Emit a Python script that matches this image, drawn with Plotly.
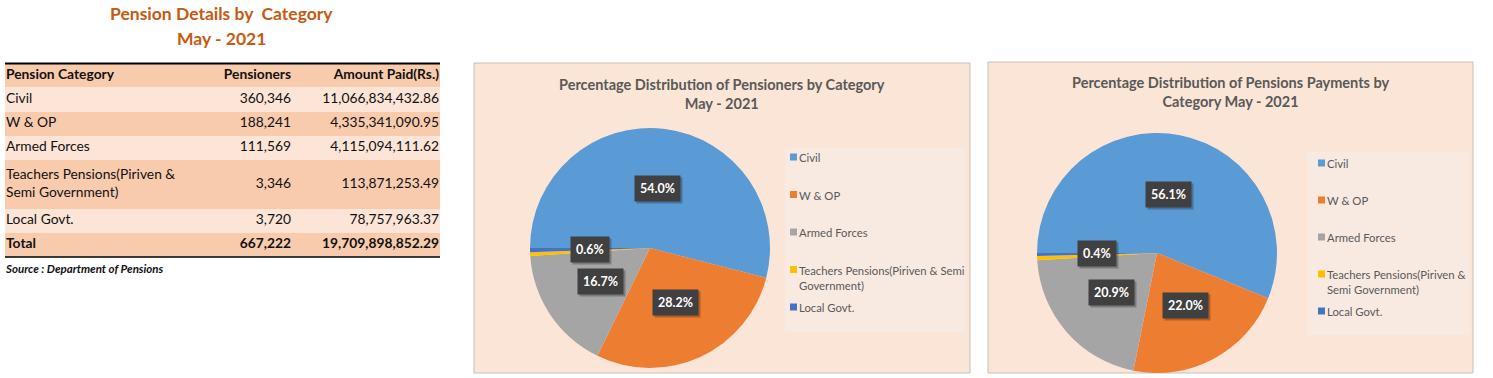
import math
import plotly.graph_objects as go

# ---------------- data ----------------
categories = ["Civil", "W & OP", "Armed Forces",
              "Teachers Pensions(Piriven & Semi Government)", "Local Govt."]
table_labels = ["Civil", "W & OP", "Armed Forces",
                "Teachers Pensions(Piriven &<br>Semi Government)", "Local Govt."]
table_headers = ["Pension Category", "Pensioners", "Amount Paid(Rs.)"]
legend_labels_1 = ["Civil", "W & OP", "Armed Forces",
                   "Teachers Pensions(Piriven & Semi<br>Government)", "Local Govt."]
legend_labels_2 = ["Civil", "W & OP", "Armed Forces",
                   "Teachers Pensions(Piriven &<br>Semi Government)", "Local Govt."]
pensioners = [360346, 188241, 111569, 3346, 3720]
amount_paid = [11066834432.86, 4335341090.95, 4115094111.62, 113871253.49, 78757963.37]
show_label = [True, True, True, False, True]
colors = ["#5B9BD5", "#ED7D31", "#A5A5A5", "#FFC000", "#4472C4"]

main_title = ["Pension Details by  Category", "May - 2021"]
chart1_title = "Percentage Distribution of Pensioners by Category<br>May - 2021"
chart2_title = "Percentage Distribution of Pensions Payments by<br>Category May - 2021"
source_text = "Source : Department of Pensions"

# ---------------- layout constants ----------------
W, H = 1493, 378
FONT = "Lato, 'Open Sans', sans-serif"
TABLE_X0, TABLE_X1, TABLE_Y0, TABLE_Y1 = 5, 440, 63, 257   # px
LIGHT, DARK = "#FCE4D6", "#F8CBAD"


def px_x(x):
    return x / W


def px_y(y):
    return 1 - y / H


def note(text, x, y, size, color, xanchor="center", yanchor="middle", **kw):
    d = dict(text=text, x=px_x(x), y=px_y(y), xref="paper", yref="paper",
             showarrow=False, xanchor=xanchor, yanchor=yanchor,
             font=dict(family=FONT, size=size, color=color))
    d.update(kw)
    return d


fig = go.Figure()

# ---------------- table (heatmap bands + text) ----------------
total_p = sum(pensioners)
total_a = sum(amount_paid)
col_cat = ["<b>" + table_headers[0] + "</b>"] + table_labels + ["<b>Total</b>"]
col_pen = ["<b>" + table_headers[1] + "</b>"] + [f"{v:,}" for v in pensioners] + [f"<b>{total_p:,}</b>"]
col_amt = ["<b>" + table_headers[2] + "</b>"] + [f"{v:,.2f}" for v in amount_paid] + [f"<b>{total_a:,.2f}</b>"]

row_units = [t.count("<br>") + 1 for t in col_cat]       # row heights in line units
edges = [0]
for u in row_units:
    edges.append(edges[-1] + u)
centers = [(edges[i] + edges[i + 1]) / 2 for i in range(len(row_units))]
band = [[1 - (i % 2)] for i in range(len(row_units))]      # dark, light, dark, ...

tw = TABLE_X1 - TABLE_X0
fig.add_trace(go.Heatmap(
    z=band, x=[0, tw], y=edges, zmin=0, zmax=1,
    colorscale=[[0, LIGHT], [1, DARK]], showscale=False, hoverinfo="skip",
    xaxis="x", yaxis="y",
))
text_font = dict(family=FONT, size=13.8, color="#111111")
fig.add_trace(go.Scatter(x=[1] * len(col_cat), y=centers, text=col_cat, mode="text",
                         textposition="middle right", textfont=text_font,
                         hoverinfo="skip", showlegend=False, xaxis="x", yaxis="y"))
fig.add_trace(go.Scatter(x=[286] * len(col_pen), y=centers, text=col_pen, mode="text",
                         textposition="middle left", textfont=text_font,
                         hoverinfo="skip", showlegend=False, xaxis="x", yaxis="y"))
fig.add_trace(go.Scatter(x=[434] * len(col_amt), y=centers, text=col_amt, mode="text",
                         textposition="middle left", textfont=text_font,
                         hoverinfo="skip", showlegend=False, xaxis="x", yaxis="y"))

shapes = []
annotations = []

# table borders
shapes.append(dict(type="line", xref="paper", yref="paper", x0=px_x(TABLE_X0), x1=px_x(TABLE_X1),
                   y0=px_y(TABLE_Y0 + 0.5), y1=px_y(TABLE_Y0 + 0.5),
                   line=dict(color="#000000", width=2)))
shapes.append(dict(type="line", xref="paper", yref="paper", x0=px_x(TABLE_X0), x1=px_x(TABLE_X1),
                   y0=px_y(TABLE_Y1), y1=px_y(TABLE_Y1), line=dict(color="#000000", width=1.5)))

# main title
annotations.append(note("<b>" + main_title[0] + "</b>", 221, 14, 17.5, "#C55A11"))
annotations.append(note("<b>" + main_title[1] + "</b>", 221, 39, 17.5, "#C55A11"))
annotations.append(note("<b><i>" + source_text + "</i></b>", 3, 268, 11.5, "#111111",
                        xanchor="left"))

# ---------------- pies ----------------
charts = [
    dict(values=pensioners, box=(474, 63, 970, 373), legend_box=(785, 148, 965, 332),
         title=chart1_title, title_xy=(722, 94), center=(650, 248), R=120,
         legend_x=790, legend_y0=157, legend_dy=37.5, legend_labels=legend_labels_1),
    dict(values=amount_paid, box=(988, 62, 1473, 373), legend_box=(1307, 152, 1470, 335),
         title=chart2_title, title_xy=(1230, 92), center=(1157, 253), R=120,
         legend_x=1318, legend_y0=163, legend_dy=37, legend_labels=legend_labels_2),
]

for ch in charts:
    x0, y0, x1, y1 = ch["box"]
    shapes.append(dict(type="rect", xref="paper", yref="paper", layer="below",
                       x0=px_x(x0), x1=px_x(x1), y0=px_y(y0), y1=px_y(y1),
                       fillcolor="#FBE5D6", line=dict(color="#C8C0BA", width=1)))
    lx0, ly0, lx1, ly1 = ch["legend_box"]
    shapes.append(dict(type="rect", xref="paper", yref="paper", layer="below",
                       x0=px_x(lx0), x1=px_x(lx1), y0=px_y(ly0), y1=px_y(ly1),
                       fillcolor="#F9EAE1", line=dict(width=0)))
    annotations.append(note("<b>" + ch["title"] + "</b>", ch["title_xy"][0],
                            ch["title_xy"][1], 14.5, "#595959", align="center"))
    cx, cy = ch["center"]
    R = ch["R"]
    vals = ch["values"]
    fig.add_trace(go.Pie(
        labels=categories, values=vals, sort=False, direction="clockwise", rotation=270,
        marker=dict(colors=colors, line=dict(width=0)), textinfo="none", showlegend=False,
        domain=dict(x=[px_x(cx - R), px_x(cx + R)], y=[px_y(cy + R), px_y(cy - R)]),
        hovertemplate="%{label}: %{percent:.1%}<extra></extra>",
    ))
    # data labels at half radius, mid-angle of each slice
    total = sum(vals)
    cum = 0.0
    for i, v in enumerate(vals):
        frac_mid = (cum + v / 2) / total
        cum += v
        if not show_label[i]:
            continue
        theta = math.radians(180 - 360 * frac_mid)
        lx = cx + 0.5 * R * math.cos(theta)
        ly = cy - 0.5 * R * math.sin(theta)
        txt = f"<b>{100 * v / total:.1f}%</b>"
        annotations.append(note(txt, lx + 2, ly + 2, 12.5, "rgba(0,0,0,0)",
                                bgcolor="rgba(0,0,0,0.25)", borderpad=5))
        annotations.append(note(txt, lx, ly, 12.5, "#FFFFFF",
                                bgcolor="#404040", borderpad=5))
    # legend
    for i, lab in enumerate(ch["legend_labels"]):
        iy = ch["legend_y0"] + i * ch["legend_dy"]
        sx = ch["legend_x"]
        shapes.append(dict(type="rect", xref="paper", yref="paper",
                           x0=px_x(sx), x1=px_x(sx + 7), y0=px_y(iy + 3.5), y1=px_y(iy - 3.5),
                           fillcolor=colors[i], line=dict(width=0)))
        annotations.append(note(lab, sx + 7, iy - 8, 11.3, "#595959",
                                xanchor="left", yanchor="top", align="left"))

fig.update_layout(
    width=W, height=H, margin=dict(l=0, r=0, t=0, b=0),
    paper_bgcolor="#FFFFFF", plot_bgcolor="rgba(0,0,0,0)",
    shapes=shapes, annotations=annotations, showlegend=False,
    font=dict(family=FONT),
    xaxis=dict(domain=[px_x(TABLE_X0), px_x(TABLE_X1)], range=[0, TABLE_X1 - TABLE_X0],
               visible=False, fixedrange=True),
    yaxis=dict(domain=[px_y(TABLE_Y1), px_y(TABLE_Y0)], range=[edges[-1], 0],
               visible=False, fixedrange=True),
)

fig.write_html("out.html", config={"displayModeBar": False},
               post_script="document.body.style.margin='0px';")
